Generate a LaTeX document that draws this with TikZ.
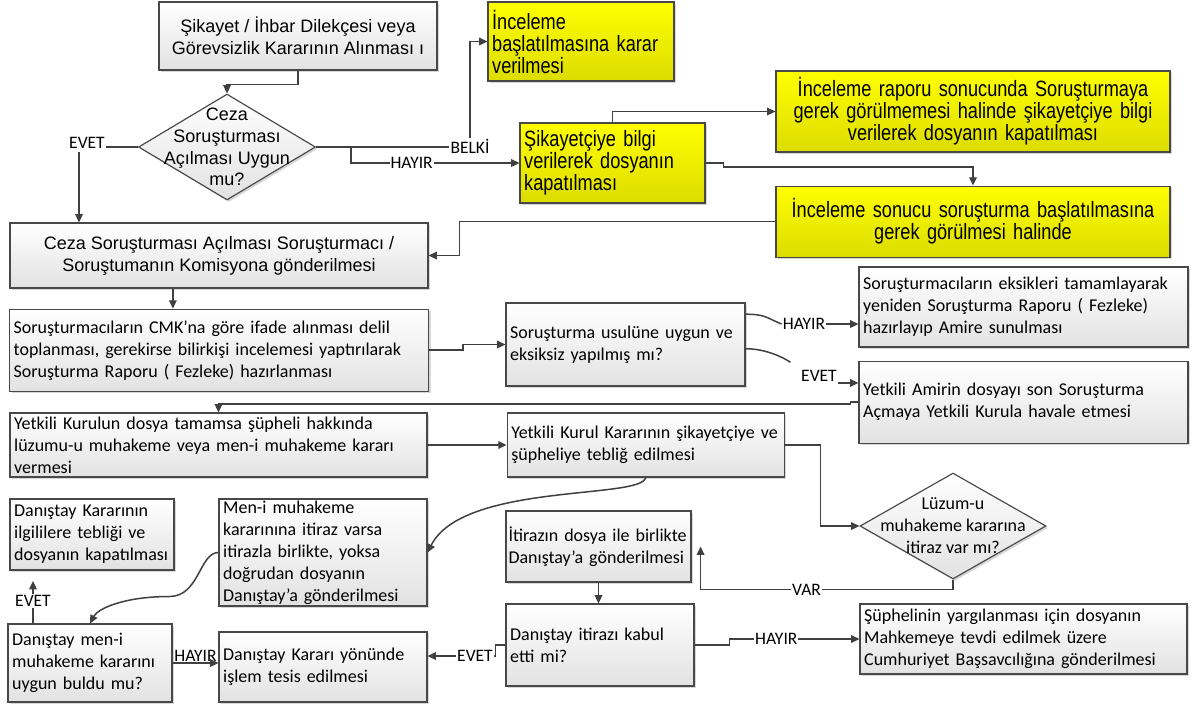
\documentclass[tikz,border=0pt]{standalone}
\usepackage{fontspec}
\setmainfont{Liberation Sans}
\newfontfamily\calibri{Carlito}
\newfontfamily\narrowfont{Liberation Sans}[FakeStretch=0.82]
\usepackage{xcolor}
\definecolor{flowgray}{RGB}{64,64,64}
\definecolor{boxedge}{RGB}{72,72,72}
\definecolor{boxbottom}{RGB}{226,226,226}
\definecolor{notetop}{RGB}{255,255,0}
\definecolor{notebottom}{RGB}{220,220,0}
\usepackage{tikz}
\usetikzlibrary{positioning,arrows.meta,shapes.geometric,shadows,calc}
\tikzset{
  stepbox/.style ={rectangle,draw=boxedge,line width=0.7pt,top color=white,bottom color=boxbottom,
                   drop shadow={shadow xshift=1.2pt,shadow yshift=-1.2pt,fill=black!30},
                   inner xsep=2.5pt,inner ysep=0pt,font=\calibri\fontsize{10.8}{13.2}\selectfont,align=left},
  headbox/.style ={stepbox,font=\fontsize{10.8}{13.2}\selectfont,align=center},
  notebox/.style ={stepbox,top color=notetop,bottom color=notebottom,font=\narrowfont\fontsize{13.3}{13.2}\selectfont},
  decision/.style={diamond,draw=boxedge,line width=0.7pt,top color=white,bottom color=boxbottom,
                   drop shadow={shadow xshift=1.2pt,shadow yshift=-1.2pt,fill=black!30},inner sep=0pt},
  dtext/.style   ={align=center,inner sep=0pt},
  lbl/.style     ={font=\calibri\fontsize{10.5}{12}\selectfont,fill=white,inner sep=0.6pt},
  flow/.style    ={-{Triangle[length=5pt,width=4.6pt]},line width=0.9pt,draw=flowgray},
  link/.style    ={line width=0.9pt,draw=flowgray},
}
\begin{document}
\begin{tikzpicture}[x=0.6pt,y=-0.6pt]
  \useasboundingbox (0,0) rectangle (1192,709);
  \node[headbox,minimum width=166.8pt,minimum height=40.8pt] (notice) at (298,36) {Şikayet / İhbar Dilekçesi veya\\Görevsizlik Kararının Alınması ı};
  \node[decision,minimum width=106.2pt,minimum height=63.6pt] (suit) at (227,147) {};
  \node[dtext,font=\fontsize{10.8}{13}\selectfont] (suittext) at (suit) {Ceza\\Soruşturması\\Açılması Uygun\\mu?};
  \node[notebox,text width=106.6pt,minimum height=47.4pt] (probe) at (581,41.5) {İnceleme\\başlatılmasına karar\\verilmesi};
  \node[notebox,text width=106pt,minimum height=48pt] (inform) at (612.5,163) {Şikayetçiye bilgi\\verilerek dosyanın\\kapatılması};
  \node[notebox,align=center,text width=231.4pt,minimum height=48.6pt] (dropcase) at (973,111.5) {İnceleme raporu sonucunda Soruşturmaya\\gerek görülmemesi halinde şikayetçiye bilgi\\verilerek dosyanın kapatılması};
  \node[notebox,align=center,text width=231.4pt,minimum height=42.6pt,below=19.8pt of dropcase] (opencase) {İnceleme sonucu soruşturma başlatılmasına\\gerek görülmesi halinde};
  \node[headbox,minimum width=250.8pt,minimum height=39pt] (commission) at (219,255.5) {Ceza Soruşturması Açılması Soruşturmacı /\\Soruştumanın Komisyona gönderilmesi};
  \node[stepbox,text width=246.4pt,minimum height=49.2pt,below=12pt of commission] (report) {Soruşturmacıların CMK’na göre ifade alınması delil\\toplanması, gerekirse bilirkişi incelemesi yaptırılarak\\Soruşturma Raporu ( Fezleke) hazırlanması};
  \node[stepbox,text width=138.4pt,minimum height=49.8pt] (check) at (625.5,344.5) {Soruşturma usulüne uygun ve\\eksiksiz yapılmış mı?};
  \node[stepbox,text width=192.4pt,minimum height=48pt] (redo) at (1023.5,307) {Soruşturmacıların eksikleri tamamlayarak\\yeniden Soruşturma Raporu ( Fezleke)\\hazırlayıp Amire sunulması};
  \node[stepbox,text width=192.4pt,minimum height=49.2pt,below=7.8pt of redo] (refer) {Yetkili Amirin dosyayı son Soruşturma\\Açmaya Yetkili Kurula havale etmesi};
  \node[stepbox,text width=245.2pt,minimum height=38.4pt] (verdict) at (218.5,445) {Yetkili Kurulun dosya tamamsa şüpheli hakkında\\lüzumu-u muhakeme veya men-i muhakeme kararı\\vermesi};
  \node[stepbox,text width=161.2pt,minimum height=38.4pt,right=47.4pt of verdict] (notify) {Yetkili Kurul Kararının şikayetçiye ve\\şüpheliye tebliğ edilmesi};
  \node[stepbox,text width=93.4pt,minimum height=42.6pt] (close) at (92,534.5) {Danıştay Kararının\\ilgililere tebliği ve\\dosyanın kapatılması};
  \node[stepbox,text width=119.8pt,minimum height=64.2pt] (dismissal) at (323,552.5) {Men-i muhakeme\\kararınına itiraz varsa\\itirazla birlikte, yoksa\\doğrudan dosyanın\\Danıştay’a gönderilmesi};
  \node[stepbox,text width=93.4pt,minimum height=46.8pt] (approve) at (90,663) {Danıştay men-i\\muhakeme kararını\\uygun buldu mu?};
  \node[stepbox,text width=119.8pt,minimum height=42pt] (apply) at (323,667) {Danıştay Kararı yönünde\\işlem tesis edilmesi};
  \node[stepbox,inner xsep=1.5pt,text width=108pt,minimum height=42.6pt] (appeal) at (598.5,546.5) {İtirazın dosya ile birlikte\\Danıştay’a gönderilmesi};
  \node[stepbox,text width=107.8pt,minimum height=49.2pt] (accept) at (600,645) {Danıştay itirazı kabul\\etti mi?};
  \node[decision,minimum width=111.6pt,minimum height=63.6pt] (objection) at (953,526) {};
  \node[dtext,font=\calibri\fontsize{10.8}{13.2}\selectfont] (objtext) at (objection) {Lüzum-u\\muhakeme kararına\\itiraz var mı?};
  \node[stepbox,text width=191.2pt,minimum height=42pt] (court) at (1023.5,639) {Şüphelinin yargılanması için dosyanın\\Mahkemeye tevdi edilmek üzere\\Cumhuriyet Başsavcılığına gönderilmesi};

  \node[lbl] (yes1) at (87,143) {EVET};
  \node[lbl] (maybe) at (470,146) {BELKİ};
  \node[lbl] (no2) at (804,324) {HAYIR};
  \node[lbl] (yes2) at (819,376) {EVET};
  \node[lbl] (yes3) at (33,601) {EVET};
  \node[lbl] (yes4) at (475,656) {EVET};
  \coordinate (down1) at (79,152);
  \coordinate (fork) at (351,147);

  \draw[flow] (notice.south) -- ++(0,14) -| (suit.north);
  \draw[link] (suit.west) -- (yes1.east |- suit.west);
  \draw[flow] (down1) -- (down1 |- commission.north);
  \draw[link] (suit.east) -- (maybe.west |- suit.east);
  \draw[flow] (maybe.north) |- (probe.west);
  \draw[flow] (fork) |- node[lbl,pos=0.68]{HAYIR} (inform.west);
  \draw[flow] (inform.north) |- (dropcase.west);
  \draw[flow] (inform.east) -- ++(18,0) -- ++(0,4) -| (opencase.north);
  \draw[flow] (opencase.west) -- ++(-316,0) |- (commission.east);
  \draw[flow] ($(commission.south west)!0.39!(commission.south east)$) coordinate (c1) -- (c1 |- report.north);
  \draw[flow] (report.east) -- ++(34,0) |- (check.west);
  \draw[link] ($(check.north east)!0.14!(check.south east)$) .. controls +(20,0) and +(-15,-6) .. (no2.west);
  \draw[flow] (no2.east) -- (no2.east -| redo.west);
  \draw[link,shorten >=7pt] ($(check.north east)!0.55!(check.south east)$) .. controls +(22,0) and +(-14,-10) .. (yes2.north west);
  \draw[flow] (yes2.south east) -- (yes2.south east -| refer.west);
  \draw[flow] (refer.west) -- ++(-8,0) -- ++(0,2) -| (verdict.north);
  \draw[flow] (verdict.east) -- (notify.west);
  \draw[flow] (notify.south) .. controls +(-4,22) and +(35,-70) .. (dismissal.east);
  \draw[flow] (dismissal.west) .. controls +(-19,0) and +(30,0) .. ++(-49,44) .. controls +(-45,0) and +(8,-15) .. (approve.north);
  \draw[flow] (approve.east) -- node[lbl,above,fill=none]{HAYIR} (approve.east -| apply.west);
  \draw[link] (yes3.south) -- (yes3.south |- approve.north);
  \draw[flow] (yes3.north) -- ++(0,-13);
  \draw[flow] (notify.east) -- ++(36,0) |- (objection.west);
  \draw[flow] (objection.south) -- ++(0,10) -| node[lbl,pos=0.29]{VAR} ([xshift=5.4pt]appeal.east);
  \draw[flow] (appeal.south) -- (appeal.south |- accept.north);
  \draw[flow] (accept.east) -- ++(35,0) |- node[lbl,pos=0.68]{HAYIR} (court.west);
  \draw[link] (accept.west) -- ++(-10,0) |- (yes4.east);
  \draw[flow] (yes4.west) -- (yes4.west -| apply.east);
\end{tikzpicture}
\end{document}
